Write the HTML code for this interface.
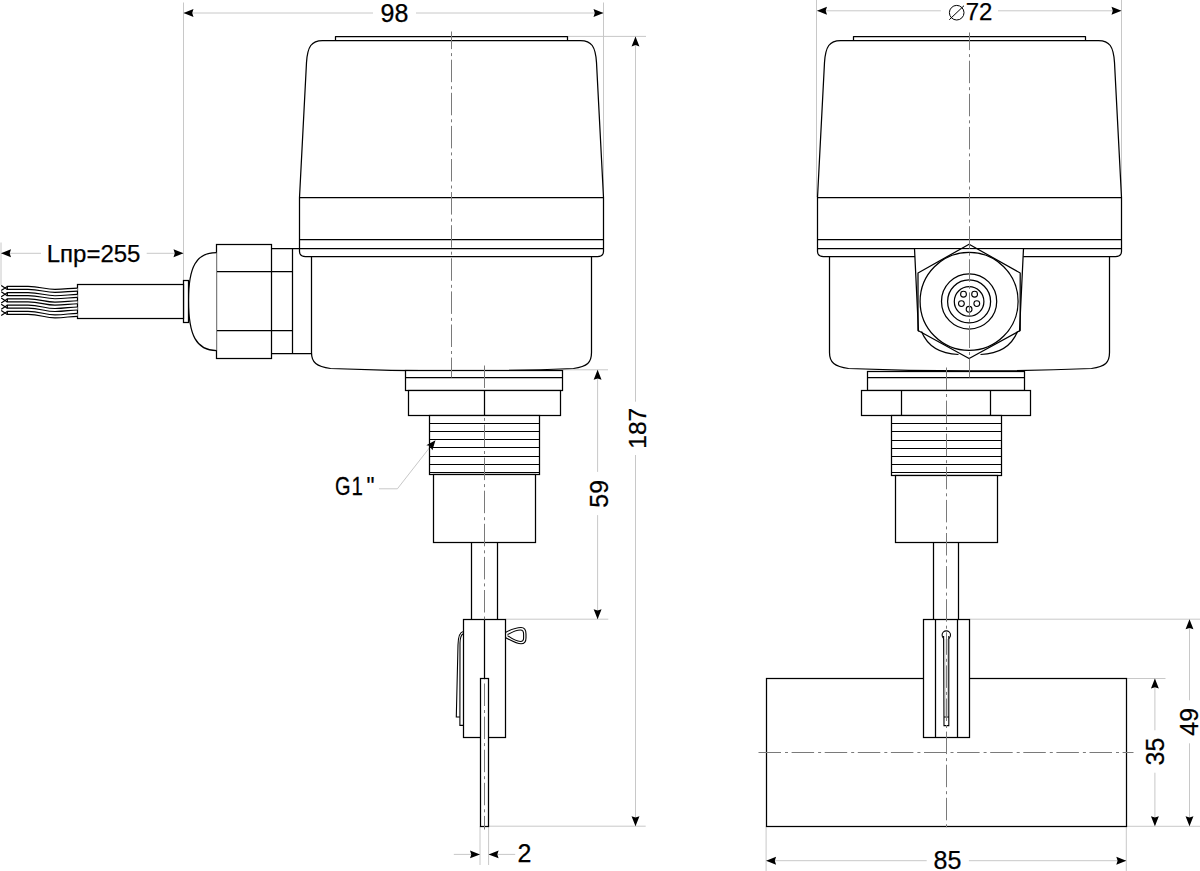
<!DOCTYPE html>
<html><head><meta charset="utf-8"><title>drawing</title>
<style>
html,body{margin:0;padding:0;background:#fff;}
svg{display:block;}
.o{fill:none;stroke:#000;stroke-width:1.25;stroke-linejoin:round;}
.of{fill:#fff;}
.th{stroke-width:1.15;}
.t{fill:none;stroke:#000;stroke-width:1.1;}
.tf{fill:#fff;}
.w{fill:#fff;stroke:#000;stroke-width:1.15;}
.h{fill:none;stroke:#999;stroke-width:0.5;}
.c{fill:none;stroke:#7a7a7a;stroke-width:1;stroke-dasharray:22.5 4 3 3.6;}
.d{fill:none;stroke:#c8c8c8;stroke-width:1;}
.a{fill:#000;}
.tx{font-family:"Liberation Sans",sans-serif;font-size:25px;fill:#000;stroke:#000;stroke-width:0.25;}
rect.o{stroke-linejoin:miter;}
</style></head>
<body>
<svg width="1200" height="871" viewBox="0 0 1200 871">
<g id="dims">
<path class="d" d="M183.5,2.5 V280.5 M603.5,2.5 V197 M183.5,13 H373 M416,13 H603.5"/>
<polygon class="a" points="183.5,13 193.5,9.05 192.2,13 193.5,16.95"/>
<polygon class="a" points="603.5,13 593.5,9.05 594.8,13 593.5,16.95"/>
<text x="394.5" y="21.9" class="tx" text-anchor="middle">98</text>
<path class="d" d="M567.5,36.4 H646 M488.6,826.2 H645.7 M635.5,36.4 V401.7 M635.5,455 V826.2"/>
<polygon class="a" points="635.5,36.4 631.55,46.4 635.5,45.1 639.45,46.4"/>
<polygon class="a" points="635.5,826.2 631.55,816.2 635.5,817.5 639.45,816.2"/>
<text class="tx" text-anchor="middle" style="font-size:24.5px" transform="translate(645.5,428.3) rotate(-90)">187</text>
<path class="d" d="M563,369.8 H608 M505.4,619.2 H608.3 M597.6,369.8 V471.9 M597.6,515.1 V619.2"/>
<polygon class="a" points="597.6,369.8 593.65,379.8 597.6,378.5 601.5500000000001,379.8"/>
<polygon class="a" points="597.6,619.2 593.65,609.2 597.6,610.5 601.5500000000001,609.2"/>
<text class="tx" text-anchor="middle" transform="translate(607.7,493.8) rotate(-90)">59</text>
<path class="d" d="M1,242.5 V285 M1,253.3 H41 M146.7,253.3 H183.5"/>
<polygon class="a" points="1,253.3 11,249.35000000000002 9.7,253.3 11,257.25"/>
<polygon class="a" points="183.5,253.3 173.5,249.35000000000002 174.8,253.3 173.5,257.25"/>
<text x="93.6" y="262" class="tx" text-anchor="middle" style="font-size:24px">Lпр=255</text>
<path class="d" d="M480,826.2 V865 M488.6,826.2 V865 M453.8,854.4 H480 M488.6,854.4 H515.2"/>
<polygon class="a" points="480,854.4 470,850.4499999999999 471.3,854.4 470,858.35"/>
<polygon class="a" points="488.6,854.4 498.6,850.4499999999999 497.3,854.4 498.6,858.35"/>
<text x="524.4" y="861.8" class="tx" text-anchor="middle">2</text>
<path class="d" d="M435,440.7 L397.4,488.8 H379"/>
<text class="tx" transform="translate(335,494.9) scale(0.8,1)">G</text>
<text class="tx" transform="translate(351.5,494.9) scale(0.82,1)">1</text>
<text class="tx" transform="translate(366.5,494.9) scale(0.9,1)">"</text>
<path class="d" d="M816.5,0 V197 M1121.5,0 V197 M817,10.8 H940.8 M998,10.8 H1121.5"/>
<polygon class="a" points="817,10.8 827,6.8500000000000005 825.7,10.8 827,14.75"/>
<polygon class="a" points="1121.5,10.8 1111.5,6.8500000000000005 1112.8,10.8 1111.5,14.75"/>
<text x="979" y="20" class="tx" text-anchor="middle" style="font-size:24px">72</text>
<circle cx="956.7" cy="12.7" r="7.3" style="fill:none;stroke:#000;stroke-width:1"/>
<path d="M949.3,19.7 L964,5.7" style="fill:none;stroke:#000;stroke-width:1"/>
<path class="d" d="M766.1,826.3 V871 M1126.3,826.3 V871 M766.1,860.7 H926.7 M968.9,860.7 H1126.3"/>
<polygon class="a" points="766.1,860.7 776.1,856.75 774.8000000000001,860.7 776.1,864.6500000000001"/>
<polygon class="a" points="1126.3,860.7 1116.3,856.75 1117.6,860.7 1116.3,864.6500000000001"/>
<text x="947.5" y="869" class="tx" text-anchor="middle">85</text>
<path class="d" d="M1126.3,678.5 H1165.5 M1154.9,678.5 V730.3 M1154.9,772.7 V826.3"/>
<polygon class="a" points="1154.9,678.5 1150.95,688.5 1154.9,687.2 1158.8500000000001,688.5"/>
<polygon class="a" points="1154.9,826.3 1150.95,816.3 1154.9,817.5999999999999 1158.8500000000001,816.3"/>
<text class="tx" text-anchor="middle" transform="translate(1164.1,751.5) rotate(-90)">35</text>
<path class="d" d="M969.7,619.2 H1200 M1126.3,826.3 H1200 M1189.5,619.2 V700.3 M1189.5,743.3 V826.3"/>
<polygon class="a" points="1189.5,619.2 1185.55,629.2 1189.5,627.9000000000001 1193.45,629.2"/>
<polygon class="a" points="1189.5,826.3 1185.55,816.3 1189.5,817.5999999999999 1193.45,816.3"/>
<text class="tx" text-anchor="middle" transform="translate(1198.2,721.8) rotate(-90)">49</text>
</g>
<g id="lv">
<path class="o" d="M335.5,40.5 V36.5 H567.5 V40.5"/>
<path class="o of" d="M311.5,256.5 V352.5 C311.5,362.5 316.5,366.5 330.5,368.5 Q451.5,373.5 573.5,368.5 C587.5,366.5 591.5,362.5 591.5,352.5 V256.5"/>
<path class="o of" d="M299.5,197.5 L306.5,62.5 C307.5,46.5 311.5,40.5 322.5,40.5 H580.5 C591.5,40.5 595.5,46.5 596.5,62.5 L603.5,197.5 V251.5 Q603.5,256.5 597.5,256.5 H305.5 Q299.5,256.5 299.5,251.5 Z"/>
<path class="o" d="M299.5,197.5 H603.5 M299.5,239.5 H603.5 M299.5,248.5 H603.5"/>
<rect class="o of" x="216.5" y="244.5" width="55" height="114"/>
<path class="o" d="M216.5,271.5 H292.5 M216.5,330.5 H292.5 M271.5,248.5 H299.5 M292.5,248.5 V353.5 M271.5,353.5 H311.5"/>
<path class="o of" d="M216.5,252.5 C196.5,252.5 188.5,266.5 188.5,300.5 C188.5,335.5 196.5,350.5 216.5,350.5"/>
<rect class="o of" x="183.5" y="280.5" width="5" height="42"/>
<rect class="o of" x="77.5" y="284.5" width="106" height="34"/>
<path class="w" d="M77.5,288.10 C70,288.10 65,289.30 55,289.30 C45,289.30 40,286.40 28,286.40 L7.35,286.40 V289.40 L28,289.40 C40,289.40 45,292.30 55,292.30 C65,292.30 70,291.10 77.5,291.10"/>
<path class="w" d="M1.2,285.40 L7.35,289.40 M1.2,290.40 L7.35,286.40"/>
<path class="w" d="M77.5,294.40 C70,294.40 65,295.70 55,295.70 C45,295.70 40,292.65 28,292.65 L7.35,292.65 V295.65 L28,295.65 C40,295.65 45,298.70 55,298.70 C65,298.70 70,297.40 77.5,297.40"/>
<path class="w" d="M1.2,291.65 L7.35,295.65 M1.2,296.65 L7.35,292.65"/>
<path class="w" d="M77.5,300.70 C70,300.70 65,302.10 55,302.10 C45,302.10 40,298.90 28,298.90 L7.35,298.90 V301.90 L28,301.90 C40,301.90 45,305.10 55,305.10 C65,305.10 70,303.70 77.5,303.70"/>
<rect class="o of" x="405.5" y="370.5" width="157" height="20"/>
<path class="o" d="M405.5,377.5 H562.5"/>
<rect class="o of" x="408.5" y="390.5" width="152" height="25"/>
<path class="o" d="M484.5,390.5 V415.5"/>
<rect class="o of" x="429.5" y="415.5" width="110" height="59"/>
<path class="o th" d="M429.5,423.5 H539.5"/>
<path class="o th" d="M429.5,431.5 H539.5"/>
<path class="o th" d="M429.5,439.5 H539.5"/>
<path class="o th" d="M429.5,447.5 H539.5"/>
<path class="o th" d="M429.5,456.5 H539.5"/>
<path class="o th" d="M429.5,464.5 H539.5"/>
<path class="o th" d="M429.5,472.5 H539.5"/>
<rect class="o of" x="433.5" y="474.5" width="102" height="68"/>
<path class="o" d="M471.5,542.5 V619.5 M497.5,542.5 V619.5"/>
<path class="w" d="M1.2,297.90 L7.35,301.90 M1.2,302.90 L7.35,298.90"/>
<path class="w" d="M77.5,307.00 C70,307.00 65,308.50 55,308.50 C45,308.50 40,305.15 28,305.15 L7.35,305.15 V308.15 L28,308.15 C40,308.15 45,311.50 55,311.50 C65,311.50 70,310.00 77.5,310.00"/>
<path class="w" d="M1.2,304.15 L7.35,308.15 M1.2,309.15 L7.35,305.15"/>
<path class="w" d="M77.5,313.30 C70,313.30 65,314.90 55,314.90 C45,314.90 40,311.40 28,311.40 L7.35,311.40 V314.40 L28,314.40 C40,314.40 45,317.90 55,317.90 C65,317.90 70,316.30 77.5,316.30"/>
<path class="w" d="M1.2,310.40 L7.35,314.40 M1.2,315.40 L7.35,311.40"/>
<rect class="o of" x="463.5" y="619.5" width="42" height="118"/>
<path class="o" d="M484.5,619.5 V678.5"/>
<rect class="o of" x="480.5" y="678.5" width="8" height="148"/>
<path class="t" d="M505.4,632.5 C512,629 517,627.5 521,627.5 C524.5,627.5 526,629.5 526,634 V638 C526,642 524.5,643.8 521,643.8 C517,643.8 512,641 505.4,637.5"/>
<path class="t" d="M507.5,634.6 C513,631.5 517,630 520.5,630 C523,630 523.6,631.5 523.6,634 V638 C523.6,640.5 523,641.5 520.5,641.5 C517,641.5 513,639.5 507.5,635.6"/>
<path class="t" d="M463.3,631.5 C460,632 458.2,636 458,645 L456.3,717 H459.9"/>
<path class="t" d="M463.3,633.8 C461.5,634.5 460.2,637.5 460,643 L459.9,725.4 H463.3"/>
</g>
<g id="rv">
<g transform="translate(518,0)">
<path class="o" d="M335.5,40.5 V36.5 H567.5 V40.5"/>
<path class="o of" d="M311.5,256.5 V352.5 C311.5,362.5 316.5,366.5 330.5,368.5 Q451.5,373.5 573.5,368.5 C587.5,366.5 591.5,362.5 591.5,352.5 V256.5"/>
<path class="o of" d="M299.5,197.5 L306.5,62.5 C307.5,46.5 311.5,40.5 322.5,40.5 H580.5 C591.5,40.5 595.5,46.5 596.5,62.5 L603.5,197.5 V251.5 Q603.5,256.5 597.5,256.5 H305.5 Q299.5,256.5 299.5,251.5 Z"/>
<path class="o" d="M299.5,197.5 H603.5 M299.5,239.5 H603.5 M299.5,248.5 H603.5"/>
</g>
<rect class="o of" x="867.5" y="371.5" width="157" height="19"/>
<path class="o" d="M867.5,377.5 H1024.5"/>
<rect class="o of" x="861.5" y="390.5" width="169" height="25"/>
<path class="o" d="M901.5,390.5 V415.5"/>
<path class="o" d="M990.5,390.5 V415.5"/>
<rect class="o of" x="891.5" y="415.5" width="110" height="60"/>
<path class="o th" d="M891.5,423.5 H1001.5"/>
<path class="o th" d="M891.5,431.5 H1001.5"/>
<path class="o th" d="M891.5,440.5 H1001.5"/>
<path class="o th" d="M891.5,448.5 H1001.5"/>
<path class="o th" d="M891.5,456.5 H1001.5"/>
<path class="o th" d="M891.5,464.5 H1001.5"/>
<path class="o th" d="M891.5,472.5 H1001.5"/>
<rect class="o of" x="895.5" y="475.5" width="102" height="67"/>
<path class="o" d="M933.5,542.5 V619.5 M958.5,542.5 V619.5"/>
<path style="fill:#fff;stroke:none" d="M914.7,249.5 Q916.5,290 918.5,331 L969.1,358.5 L1019.7,331 Q1021.7,290 1023.5,249.5 Z"/>
<path class="o" d="M914.5,248.5 Q916.5,290.5 918.5,331.5 M1023.5,248.5 Q1021.5,290.5 1019.5,331.5"/>
<path class="o" d="M297.5,248.5"/>
<polygon class="o" points="969.1,244.3 1020.2,273 1020.2,330.5 969.1,358.5 918,330.5 918,273"/>
<path class="o" d="M921.5,331.5 Q930.5,353.5 958.5,354.5 M1017.5,331.5 Q1008.5,353.5 980.5,354.5"/>
<circle class="o" cx="969.1" cy="301.4" r="49"/>
<circle class="o" cx="969.1" cy="301.4" r="27.6" />
<circle class="o" cx="969.1" cy="301.4" r="21.5" />
<circle class="o" cx="969.1" cy="301.4" r="14.8" />
<circle class="t" cx="963.5" cy="294.2" r="2.9" />
<circle class="t" cx="974.6" cy="294.2" r="2.9" />
<circle class="t" cx="961.4" cy="303.6" r="2.9" />
<circle class="t" cx="976.8" cy="303.6" r="2.9" />
<circle class="t" cx="969.1" cy="309.3" r="2.9" />
<rect class="o of" x="766.5" y="678.5" width="360" height="148"/>
<rect class="o of" x="923.5" y="619.5" width="46" height="118"/>
<path class="o" d="M935.5,619.5 V737.5 M957.5,619.5 V737.5"/>
<circle class="t tf" cx="946.3" cy="635.1" r="4.2"/>
<path class="t tf" d="M943.6,636 L944,725.6 H948.8 L948.8,636 M944,717 H948.8"/>
<path class="h" d="M944.9,639 L945.3,716 M947.4,639 L947.4,716"/>
</g>
<g id="cl">
<path class="c" d="M451.5,31.5 V377.5" stroke-dashoffset="4.9"/>
<path class="c" d="M969.5,32.5 V377.5" stroke-dashoffset="4.9"/>
<path class="c" d="M484.5,365.5 V390.5"/>
<path class="c" d="M484.5,416.5 V619.5" stroke-dashoffset="-8"/>
<path class="c" d="M484.5,679.5 V829.5" stroke-dashoffset="-4"/>
<path class="c" d="M946.5,367.5 V830.5"/>
<path class="c" d="M758.5,752.5 H1133.5"/>
<polygon class="a" points="435.5,440.2 426.3,445.2 429.6,445.8 432.4,450.2"/>
</g>
</svg>
</body></html>
